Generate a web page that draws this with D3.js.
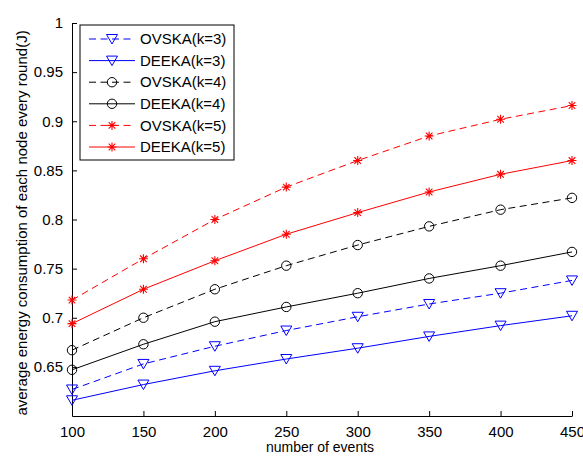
<!DOCTYPE html>
<html>
<meta charset="utf-8">
<title>average energy consumption</title>
<style>
  body { margin: 0; background: #fff; }
  text { font-family: "Liberation Sans", Arial, sans-serif; fill: #000; }
</style>
<body>
<div id="chart"></div>
<script src="https://d3js.org/d3.v7.min.js"></script>
<script>
// number of events on x
var events = [100, 150, 200, 250, 300, 350, 400, 450];
var xTicks = [100, 150, 200, 250, 300, 350, 400, 450];
var yTicks = [0.65, 0.7, 0.75, 0.8, 0.85, 0.9, 0.95, 1];

// values
var ovska3 = [0.627, 0.653, 0.671, 0.687, 0.701, 0.714, 0.725, 0.738];
var deeka3 = [0.616, 0.632, 0.646, 0.658, 0.669, 0.681, 0.692, 0.702];
var ovska4 = [0.667, 0.700, 0.729, 0.753, 0.774, 0.793, 0.810, 0.822];
var deeka4 = [0.647, 0.673, 0.696, 0.711, 0.725, 0.740, 0.753, 0.767];
var ovska5 = [0.718, 0.760, 0.800, 0.833, 0.860, 0.885, 0.902, 0.916];
var deeka5 = [0.694, 0.729, 0.758, 0.785, 0.807, 0.828, 0.846, 0.860];

var seriesNames = ["OVSKA(k=3)", "DEEKA(k=3)", "OVSKA(k=4)", "DEEKA(k=4)", "OVSKA(k=5)", "DEEKA(k=5)"];
var seriesValues = [ovska3, deeka3, ovska4, deeka4, ovska5, deeka5];

var W = 583, H = 456;
var margin = {top: 23, right: 11, bottom: 40, left: 72};

var svg = d3.select("#chart").append("svg")
  .attr("width", W).attr("height", H);

var x = d3.scaleLinear().domain([100, 450]).range([margin.left, W - margin.right]);
var y = d3.scaleLinear().domain([0.6, 1]).range([H - margin.bottom, margin.top]);

// styles per series
var colors = ["#0000ff", "#0000ff", "#000000", "#000000", "#ff0000", "#ff0000"];
var dashed = [true, false, true, false, true, false];
var markers = ["tri", "tri", "circle", "circle", "star", "star"];

function drawMarker(g, type, cx, cy, color) {
  if (type == "tri") {
    g.append("path")
      .attr("d", "M" + (cx - 5.5) + "," + (cy - 4.5) + "L" + (cx + 5.5) + "," + (cy - 4.5) + "L" + cx + "," + (cy + 5) + "Z")
      .attr("fill", "none").attr("stroke", color).attr("stroke-width", 1);
  } else if (type == "circle") {
    g.append("circle").attr("cx", cx).attr("cy", cy).attr("r", 4.7)
      .attr("fill", "none").attr("stroke", color).attr("stroke-width", 1);
  } else {
    var r = 4.5, d = 3.3;
    g.append("path")
      .attr("d", "M" + (cx - r) + "," + cy + "H" + (cx + r) +
        "M" + cx + "," + (cy - r) + "V" + (cy + r) +
        "M" + (cx - d) + "," + (cy - d) + "L" + (cx + d) + "," + (cy + d) +
        "M" + (cx - d) + "," + (cy + d) + "L" + (cx + d) + "," + (cy - d))
      .attr("fill", "none").attr("stroke", color).attr("stroke-width", 1.1);
  }
}

// axes (left and bottom only, ticks pointing in)
var xAxis = d3.axisBottom(x).tickValues(xTicks).tickSizeInner(-5).tickSizeOuter(0).tickPadding(8)
  .tickFormat(d3.format("d"));
var yAxis = d3.axisLeft(y).tickValues(yTicks).tickSizeInner(-5).tickSizeOuter(0).tickPadding(9)
  .tickFormat(function (d) { return String(+d.toFixed(2)); });

var gx = svg.append("g").attr("transform", "translate(0," + (H - margin.bottom) + ")").call(xAxis);
var gy = svg.append("g").attr("transform", "translate(" + margin.left + ",0)").call(yAxis);
[gx, gy].forEach(function (g) {
  g.selectAll("path, line").attr("stroke", "#000").attr("stroke-width", 1);
  g.selectAll("text").style("font-size", "15px").style("font-family", "Liberation Sans, Arial, sans-serif").attr("fill", "#000");
});
gx.selectAll("text").attr("dy", "0.85em");

// lines and markers
var line = d3.line().x(function (d, i) { return x(events[i]); }).y(function (d) { return y(d); });
seriesValues.forEach(function (vals, s) {
  svg.append("path").datum(vals)
    .attr("d", line)
    .attr("fill", "none")
    .attr("stroke", colors[s])
    .attr("stroke-width", 1)
    .attr("stroke-dasharray", dashed[s] ? "7,4.5" : null);
  var mg = svg.append("g");
  vals.forEach(function (v, i) {
    drawMarker(mg, markers[s], x(events[i]), y(v), colors[s]);
  });
});

// axis titles
svg.append("text")
  .attr("x", (margin.left + W - margin.right) / 2 - 2)
  .attr("y", 452)
  .attr("text-anchor", "middle")
  .style("font-size", "14px")
  .text("number of events");

svg.append("text")
  .attr("transform", "translate(27," + 223 + ") rotate(-90)")
  .attr("text-anchor", "middle")
  .style("font-size", "15px")
  .text("average energy consumption of each node every round(J)");

// legend
var lg = svg.append("g");
lg.append("rect").attr("x", 80).attr("y", 25).attr("width", 154).attr("height", 135)
  .attr("fill", "#fff").attr("stroke", "#000").attr("stroke-width", 1);
seriesNames.forEach(function (name, s) {
  var ly = 39 + s * 21.6;
  lg.append("line").attr("x1", 89).attr("x2", 135).attr("y1", ly).attr("y2", ly)
    .attr("stroke", colors[s]).attr("stroke-width", 1)
    .attr("stroke-dasharray", dashed[s] ? "7,4.5" : null);
  drawMarker(lg, markers[s], 112, ly, colors[s]);
  lg.append("text").attr("x", 140).attr("y", ly).attr("dy", "0.35em")
    .style("font-size", "15px").text(name);
});
</script>
</body>
</html>
